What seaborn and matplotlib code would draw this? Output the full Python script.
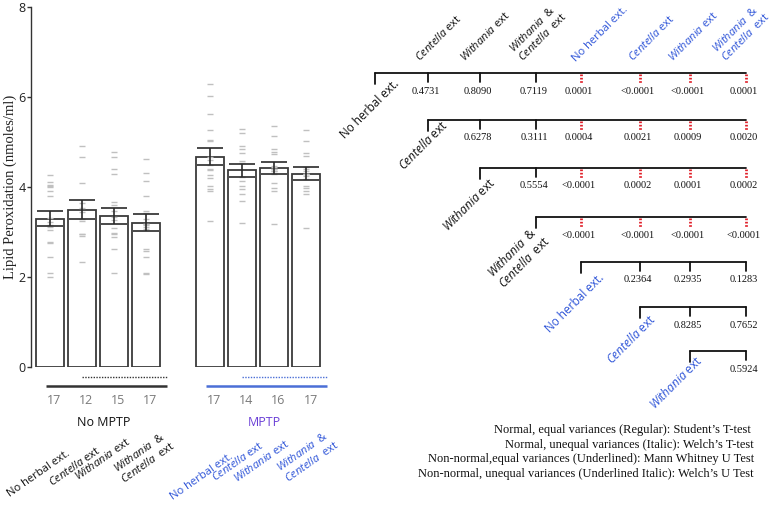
import numpy as np
import pandas as pd
import matplotlib
matplotlib.use("Agg")
import matplotlib.pyplot as plt
import matplotlib.transforms as mtransforms
import seaborn as sns

# ---------------- data ----------------
treatments = ["No herbal ext.", "Centella ext", "Withania ext", "Withania & Centella ext"]
conditions = ["No MPTP", "MPTP"]
bar_pos = [0, 1, 2, 3, 5, 6, 7, 8]
means = [3.30, 3.50, 3.36, 3.21, 4.67, 4.37, 4.42, 4.30]
sems = [0.17, 0.21, 0.175, 0.185, 0.19, 0.15, 0.14, 0.14]
counts = [17, 12, 15, 17, 17, 14, 16, 17]

pts_nomptp_nh = [4.27, 4.12, 4.05, 4.03, 4.01, 3.92, 3.80, 3.31, 3.23, 3.15, 3.12, 3.05, 2.77, 2.75, 2.45, 2.08, 2.01]
pts_nomptp_c = [4.90, 4.67, 4.10, 3.64, 3.53, 3.45, 3.29, 3.25, 2.96, 2.95, 2.92, 2.34]
pts_nomptp_w = [4.77, 4.67, 4.39, 4.30, 3.67, 3.61, 3.47, 3.34, 3.27, 3.08, 2.97, 2.95, 2.90, 2.62, 2.08]
pts_nomptp_wc = [4.62, 4.32, 4.13, 3.81, 3.47, 3.42, 3.30, 3.18, 3.17, 3.15, 3.12, 3.06, 2.62, 2.58, 2.45, 2.10, 2.07]
pts_mptp_nh = [6.28, 6.03, 5.62, 5.27, 5.04, 5.02, 4.67, 4.60, 4.49, 4.40, 4.38, 4.27, 4.20, 4.02, 3.95, 3.91, 3.25]
pts_mptp_c = [5.29, 5.19, 4.92, 4.84, 4.76, 4.58, 4.53, 4.23, 4.13, 4.03, 3.95, 3.85, 3.70, 3.19]
pts_mptp_w = [5.36, 5.13, 4.84, 4.78, 4.73, 4.47, 4.45, 4.40, 4.40, 4.35, 4.35, 4.30, 4.10, 3.98, 3.91, 3.17]
pts_mptp_wc = [5.27, 5.03, 4.75, 4.70, 4.45, 4.40, 4.35, 4.30, 4.28, 4.28, 4.25, 4.18, 4.03, 3.98, 3.91, 3.84, 3.10]
all_pts = [pts_nomptp_nh, pts_nomptp_c, pts_nomptp_w, pts_nomptp_wc,
           pts_mptp_nh, pts_mptp_c, pts_mptp_w, pts_mptp_wc]

y_ticks = [0, 2, 4, 6, 8]
y_label = "Lipid Peroxidation (nmoles/ml)"

# pairwise p-values (upper triangle, rows = first group, cols = following groups)
pvals = [
    ["0.4731", "0.8090", "0.7119", "0.0001", "<0.0001", "<0.0001", "0.0001"],
    ["0.6278", "0.3111", "0.0004", "0.0021", "0.0009", "0.0020"],
    ["0.5554", "<0.0001", "0.0002", "0.0001", "0.0002"],
    ["<0.0001", "<0.0001", "<0.0001", "<0.0001"],
    ["0.2364", "0.2935", "0.1283"],
    ["0.8285", "0.7652"],
    ["0.5924"],
]
legend_lines = [
    "Normal, equal variances (Regular): Student\u2019s T-test ",
    "Normal, unequal variances (Italic): Welch\u2019s T-test",
    "Non-normal,equal variances (Underlined): Mann Whitney U Test",
    "Non-normal, unequal variances (Underlined Italic): Welch\u2019s U Test",
]

# ---------------- style ----------------
sns.set_theme(style="white")
plt.rcParams["font.family"] = ["Open Sans", "DejaVu Sans"]
plt.rcParams["mathtext.fontset"] = "custom"
plt.rcParams["mathtext.rm"] = "Open Sans"
plt.rcParams["mathtext.it"] = "Open Sans:italic"

BLUE = "#2f55d8"
BLUE_LINE = "#4b6fd6"
PURPLE = "#6a3fd6"
RED = "#e0202a"
SERIF = ["Liberation Serif", "DejaVu Serif"]

def fancy(name):
    if name == "Centella ext":
        return r"$\mathit{Centella}$ ext"
    if name == "Withania ext":
        return r"$\mathit{Withania}$ ext"
    if name == "Withania & Centella ext":
        return r"$\mathit{Withania}$  &" + "\n" + r"$\mathit{Centella}$  ext"
    return name

W, H = 780, 513
fig = plt.figure(figsize=(W / 100, H / 100), dpi=100)

# bar axes (pixel frame: left 31, right ~325, top 7, bottom 367)
ax = fig.add_axes([31 / W, (H - 367) / H, 294 / W, 360 / H])

df = pd.DataFrame({"pos": bar_pos, "mean": means,
                   "cond": [c for c in conditions for _ in range(4)]})
sns.barplot(data=df, x="pos", y="mean", native_scale=True, width=0.875,
            color="white", edgecolor="#3a3a3a", linewidth=1.3, errorbar=None, ax=ax)

pdf = pd.DataFrame({"pos": np.repeat(bar_pos, [len(p) for p in all_pts]),
                    "val": np.concatenate(all_pts)})
ax.scatter(pdf["pos"], pdf["val"], marker="_", s=14, color="#c0c0c0",
           linewidths=1.0, zorder=4)
ax.errorbar(bar_pos, means, yerr=sems, fmt="none", ecolor="#2a2a2a",
            elinewidth=1.2, capsize=9.5, capthick=1.2, zorder=5)

ax.set_xlim(-0.578, 8.6)
ax.set_ylim(0, 8)
ax.set_yticks(y_ticks)
ax.set_yticklabels([str(t) for t in y_ticks], fontsize=9, color="#222222")
ax.set_xticks([])
ax.set_xlabel("")
ax.set_ylabel(y_label, fontsize=10.5, family=SERIF, color="#222222", labelpad=1)
for s in ["top", "right", "bottom"]:
    ax.spines[s].set_visible(False)
ax.spines["left"].set_color("#333333")
ax.spines["left"].set_linewidth(1.0)
ax.tick_params(axis="y", length=3, width=1, color="#333333", pad=1, left=True)
ax.patch.set_alpha(0)

# overlay axes in pixel units for annotations
ov = fig.add_axes([0, 0, 1, 1])
ov.set_xlim(0, W)
ov.set_ylim(H, 0)
ov.axis("off")
ov.patch.set_alpha(0)
bt = mtransforms.blended_transform_factory(ax.transData, ov.transData)

# group lines below bars
for g, lc in enumerate(["#333333", BLUE_LINE]):
    base = 5 * g
    ov.plot([base - 0.11, base + 3.67], [385.7, 385.7], color=lc, lw=1.8,
            transform=bt, solid_capstyle="butt")
    ov.plot([base + 1.0, base + 3.67], [377, 377], color=lc, lw=1.0,
            ls=(0, (1, 1)), transform=bt)

for p, n in zip(bar_pos, counts):
    ov.text(p + 0.15, 401, str(n), transform=bt, ha="center", va="center",
            fontsize=9, color="#7a7a7a")
ov.text(1.7, 423, conditions[0], transform=bt, ha="center", va="center",
        fontsize=9, color="#111111")
ov.text(6.7, 423, conditions[1], transform=bt, ha="center", va="center",
        fontsize=9, color=PURPLE)

# rotated treatment labels under the bars
lab_dx = [0.70, 0.66, 0.60, 1.00, 0.80, 0.75, 0.55, 1.10]
lab_y = [457, 454, 446, 450, 460, 449, 448, 449]
for i, p in enumerate(bar_pos):
    c = "#111111" if i < 4 else BLUE
    ov.text(p + lab_dx[i], lab_y[i], fancy(treatments[i % 4]), transform=bt,
            rotation=35, rotation_mode="anchor", ha="right", va="bottom",
            fontsize=8, color=c, multialignment="left", linespacing=1.15)

# ---------------- p-value matrix ----------------
col_x = [375, 428, 480, 536, 581, 640, 690, 746]
row_y = [73, 120, 168, 217, 262, 307, 351]
names = treatments + treatments
name_colors = ["#111111"] * 4 + [BLUE] * 4
col_label_dx = [0, -6, -13, -11, -3, -5, -15, -18]
row_label_off = [(27, 13), (23, 8), (18, 17), (17, 27), (26, 18), (19, 15), (15, 12)]

for r in range(7):
    y = row_y[r]
    x0 = col_x[r]
    ov.plot([x0, col_x[-1]], [y, y], color="#111111", lw=1.3)
    ov.plot([x0, x0], [y, y + 11], color="#111111", lw=1.3)
    for k, pv in enumerate(pvals[r]):
        c = r + 1 + k
        x = col_x[c]
        if r < 4 and c >= 4:
            ov.plot([x, x], [y + 1, y + 10], color=RED, lw=2.0, ls=(0, (0.6, 0.6)))
        else:
            ov.plot([x, x], [y, y + 9], color="#111111", lw=1.3)
        ov.text(x - 2, y + 18, pv, ha="center", va="center", fontsize=7.5,
                family=SERIF, color="#111111")
    # row label
    dx, dy = row_label_off[r]
    ov.text(x0 + dx, y + dy, fancy(names[r]), rotation=45, rotation_mode="anchor",
            ha="right", va="bottom", fontsize=8.5, color=name_colors[r],
            multialignment="left", linespacing=1.15)

# column labels along the top
for c in range(1, 8):
    ov.text(col_x[c] + col_label_dx[c], row_y[0] - 9, fancy(names[c]), rotation=45,
            rotation_mode="anchor", ha="left", va="bottom", fontsize=8,
            color=name_colors[c], multialignment="left", linespacing=1.05)

# legend text
for i, line in enumerate(legend_lines):
    ov.text(754, 430 + i * 14.7, line, ha="right", va="center", fontsize=9,
            family=SERIF, color="#111111")

fig.savefig("out.png", dpi=100)
